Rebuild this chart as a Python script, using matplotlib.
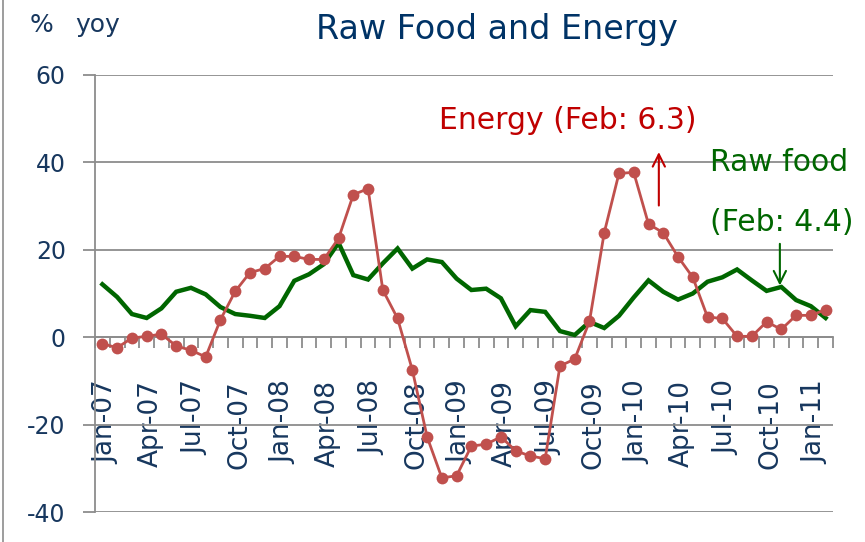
import numpy as np
import matplotlib
matplotlib.use("Agg")
import matplotlib.pyplot as plt
import matplotlib.transforms as mtransforms
from matplotlib.lines import Line2D

plt.rcParams["axes.unicode_minus"] = False

# monthly, Jan-07 .. Feb-11
months = ["Jan", "Feb", "Mar", "Apr", "May", "Jun",
          "Jul", "Aug", "Sep", "Oct", "Nov", "Dec"]
labels = [f"{m}-{y:02d}" for y in range(7, 12) for m in months][:50]

raw_food = [12.1, 9.2, 5.3, 4.4, 6.6, 10.4, 11.3, 9.8, 6.9, 5.3,
            4.9, 4.4, 7.1, 12.9, 14.4, 16.7, 21.6, 14.2, 13.2, 16.9,
            20.3, 15.7, 17.8, 17.2, 13.4, 10.8, 11.1, 8.9, 2.5, 6.2,
            5.8, 1.4, 0.5, 3.5, 2.1, 4.9, 9.1, 13.0, 10.4, 8.6,
            10.0, 12.7, 13.7, 15.5, 13.0, 10.6, 11.5, 8.5, 7.1, 4.4]

energy = [-1.5, -2.4, -0.2, 0.2, 0.7, -2.0, -3.0, -4.5, 4.0, 10.5,
          14.8, 15.7, 18.5, 18.5, 17.8, 17.8, 22.6, 32.6, 34.0, 10.8,
          4.3, -7.5, -22.8, -32.2, -31.7, -24.9, -24.5, -22.8, -26.0, -27.2,
          -27.8, -6.6, -5.0, 3.6, 23.9, 37.5, 37.7, 25.9, 23.9, 18.4,
          13.7, 4.6, 4.3, 0.2, 0.2, 3.5, 1.8, 5.0, 5.0, 6.3]

navy = "#17375E"
grid_col = "#8C8C8C"

fig = plt.figure(figsize=(8.65, 5.42), dpi=100)
ax = fig.add_axes([95 / 865, 30 / 542, (833 - 95) / 865, (512 - 75) / 542])

x = np.arange(len(labels))
ax.plot(x, raw_food, color="#006600", lw=3.2, solid_joinstyle="miter", zorder=3)
ax.plot(x, energy, color="#C0504D", lw=2.0, marker="o", markersize=8.5,
        markeredgewidth=0, zorder=4)

ax.set_xlim(-0.5, len(labels) - 0.5)
ax.set_ylim(-40, 60)
ax.set_yticks(np.arange(-40, 61, 20))
ax.yaxis.grid(True, color=grid_col, lw=1.3)
ax.set_axisbelow(True)

ax.spines["top"].set_visible(False)
ax.spines["right"].set_visible(False)
ax.spines["left"].set_color(grid_col)
ax.spines["left"].set_linewidth(1.3)
ax.spines["bottom"].set_position(("data", 0))
ax.spines["bottom"].set_color(grid_col)
ax.spines["bottom"].set_linewidth(1.3)

ax.tick_params(axis="y", direction="out", length=9, width=1.3, color=grid_col,
               labelsize=17, labelcolor=navy, pad=12)

ax.set_xticks(x[::3])
ax.set_xticklabels(labels[::3], rotation=90, fontsize=19, color=navy, va="top")
ax.set_xticks(np.arange(-0.5, len(labels), 1), minor=True)
ax.tick_params(axis="x", which="major", length=0, pad=31)
ax.tick_params(axis="x", which="minor", direction="out", length=8, width=1.3,
               color=grid_col)
shift = mtransforms.ScaledTranslation(4 / 100, 0, fig.dpi_scale_trans)
for lab in ax.get_xticklabels():
    lab.set_transform(lab.get_transform() + shift)

# annotations
ax.text(31.5, 49.7, "Energy (Feb: 6.3)", color="#C00000", fontsize=21.5,
        ha="center", va="center")
ax.annotate("", xy=(37.7, 43), xytext=(37.7, 29.5),
            arrowprops=dict(arrowstyle="->", color="#C00000", lw=1.5,
                            mutation_scale=22))
ax.text(41.2, 40, "Raw food", color="#006600", fontsize=21.5,
        ha="left", va="center")
ax.text(41.2, 26.3, "(Feb: 4.4)", color="#006600", fontsize=21.5,
        ha="left", va="center")
ax.annotate("", xy=(45.9, 11.2), xytext=(45.9, 22),
            arrowprops=dict(arrowstyle="->", color="#006600", lw=1.5,
                            mutation_scale=22))

fig.text(497 / 865, 1 - 30 / 542, "Raw Food and Energy", color="#003366",
         fontsize=24, ha="center", va="center")
fig.text(30 / 865, 1 - 25 / 542, "%", color=navy, fontsize=18,
         ha="left", va="center")
fig.text(75 / 865, 1 - 25 / 542, "yoy", color=navy, fontsize=18,
         ha="left", va="center")

fig.add_artist(Line2D([2.5 / 865, 2.5 / 865], [0, 1], color=grid_col, lw=1.2))

fig.savefig("out.png", dpi=100)
